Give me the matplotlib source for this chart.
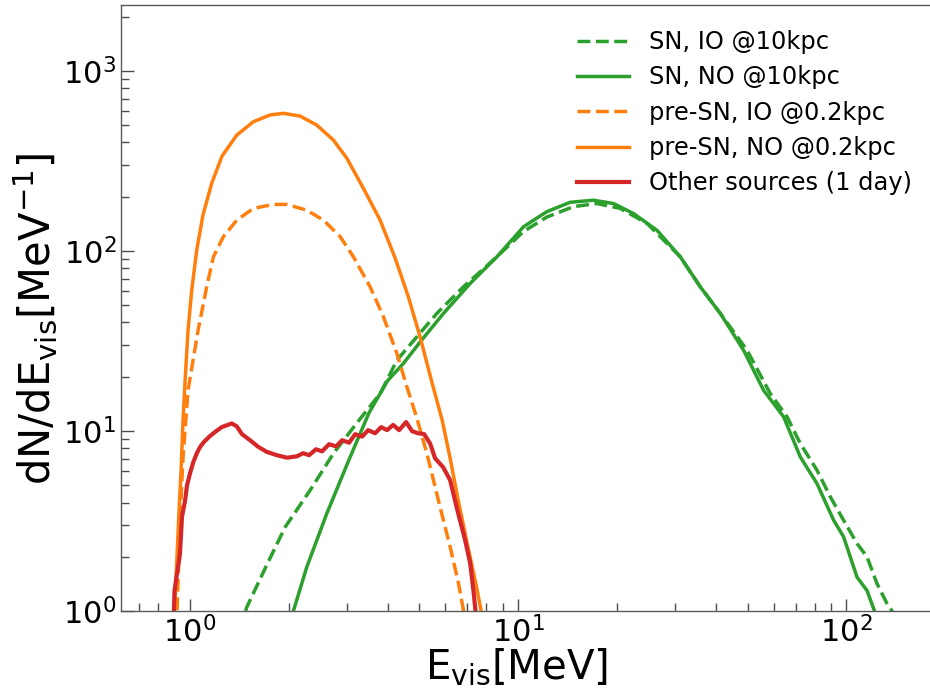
import numpy as np
import matplotlib
matplotlib.use("Agg")
import matplotlib.pyplot as plt

# pre-supernova, normal ordering (0.2 kpc)
presn_no_E = [0.885, 0.900, 0.913, 0.926, 0.939, 0.952, 0.966, 0.986, 1.012, 1.048, 1.095,
              1.165, 1.252, 1.388, 1.56, 1.753, 1.925, 2.165, 2.434, 2.734, 3.004, 3.376,
              3.796, 4.217, 4.62, 5.026, 5.468, 5.866, 6.204, 6.563, 6.99, 7.447, 7.713, 7.85]
presn_no_N = [0.6, 1.147, 2.04, 3.63, 6.05, 11.5, 19.1, 36.3, 60.5, 101, 158,
              238, 336, 439, 521, 568, 580, 560, 499, 412, 327, 222,
              148, 91.1, 56.0, 33.2, 18.4, 11.47, 7.05, 4.12, 2.38, 1.39, 1.0, 0.7]

# pre-supernova, inverted ordering (0.2 kpc)
presn_io_E = [0.900, 0.913, 0.932, 0.952, 0.986, 1.058, 1.124, 1.178, 1.264, 1.388, 1.56, 1.795,
              1.972, 2.269, 2.55, 2.866, 3.147, 3.538, 3.885, 4.27, 4.578, 4.91, 5.27,
              5.78, 6.204, 6.58, 6.81, 6.95]
presn_io_N = [0.5, 1.0, 3.19, 7.15, 16.8, 36.2, 63.1, 92.6, 120, 148, 172, 181,
              181, 168, 148, 120, 92.6, 63.1, 43, 26.9, 17.6, 11.8, 7.49,
              3.78, 2.27, 1.42, 1.01, 0.6]

# supernova, normal ordering (10 kpc)
sn_no_E = [1.95, 2.065, 2.269, 2.611, 3.047, 3.51, 4.00, 4.47, 5.026, 5.92, 7.14, 8.61,
           10.38, 12.23, 14.4, 16.97, 19.53, 22.47, 26.48, 31.19, 35.88, 41.3, 48.6,
           55.97, 64.4, 72.4, 81.4, 91.5, 98.1, 107.8, 115.6, 122.6, 130]
sn_no_N = [0.6, 1.0, 1.756, 3.48, 6.88, 12.6, 19.0, 23.7, 31.2, 44.9, 65.9, 92.6,
           136, 165, 186, 191, 183, 161, 130, 92.6, 63.1, 44.9, 28.1,
           16.8, 11.97, 7.17, 5.1, 3.19, 2.58, 1.54, 1.30, 0.97, 0.6]

# supernova, inverted ordering (10 kpc)
sn_io_E = [1.42, 1.489, 1.70, 1.95, 2.322, 2.734, 3.215, 3.796, 4.27, 4.91, 5.65, 6.81,
           8.61, 10.38, 12.23, 14.75, 17.38, 20.46, 24.69, 31.19, 35.88, 41.3, 49.8,
           58.66, 65.96, 72.4, 81.4, 89.4, 98.1, 107.8, 115.6, 124, 133, 139.4, 146]
sn_io_N = [0.8, 1.05, 1.75, 2.93, 4.68, 7.49, 11.0, 16.1, 24.7, 33.3, 44.9, 63.1,
           92.6, 128, 154, 176, 183, 172, 142, 92.6, 63.1, 44.9, 28.1,
           16.1, 11.97, 8.51, 6.05, 4.3, 3.19, 2.37, 2.0, 1.42, 1.1, 0.97, 0.7]

# backgrounds from other sources, integrated over one day
bkg_E = [0.891, 0.897, 0.932, 0.945, 0.966, 0.979, 1.0, 1.023, 1.048, 1.073, 1.103, 1.143,
         1.192, 1.249, 1.340, 1.388, 1.44, 1.523, 1.615, 1.713, 1.838, 1.975, 2.12,
         2.21, 2.306, 2.42, 2.526, 2.653, 2.787, 2.907, 3.053, 3.185, 3.345, 3.489,
         3.664, 3.822, 3.987, 4.158, 4.337, 4.554, 4.751, 4.956, 5.169, 5.392, 5.58,
         5.905, 6.204, 6.504, 6.893, 7.14, 7.305, 7.42, 7.5]
bkg_N = [0.9, 1.30, 2.09, 3.33, 4.12, 4.99, 5.82, 6.70, 7.49, 8.15, 8.69, 9.27,
         9.87, 10.5, 11.0, 10.6, 9.59, 8.88, 8.15, 7.65, 7.33, 7.10, 7.23,
         7.52, 7.33, 7.91, 7.7, 8.44, 8.2, 8.88, 8.6, 9.59, 9.3, 10.1,
         9.7, 10.5, 10.1, 10.8, 10.1, 11.2, 9.96, 9.7, 9.6, 8.5, 7.05,
         6.29, 5.32, 3.72, 2.47, 1.84, 1.30, 0.98, 0.7]

GREEN = "#2ca02c"
ORANGE = "#ff7f0e"
RED = "#d62728"

fig = plt.figure(figsize=(9.3, 6.9), dpi=100)
ax = fig.add_axes([121 / 930, 79 / 690, 813 / 930, 606 / 690])

lw = 2.5
ax.plot(sn_io_E, sn_io_N, color=GREEN, ls="--", lw=lw, label="SN, IO @10kpc")
ax.plot(sn_no_E, sn_no_N, color=GREEN, ls="-", lw=lw, label="SN, NO @10kpc")
ax.plot(presn_io_E, presn_io_N, color=ORANGE, ls="--", lw=lw, label="pre-SN, IO @0.2kpc")
ax.plot(presn_no_E, presn_no_N, color=ORANGE, ls="-", lw=lw, label="pre-SN, NO @0.2kpc")
ax.plot(bkg_E, bkg_N, color=RED, ls="-", lw=3, label="Other sources (1 day)")

ax.set_xscale("log")
ax.set_yscale("log")
ax.set_xlim(0.616, 185)
ax.set_ylim(1, 2317)

ax.tick_params(which="both", direction="in", top=False, right=False,
               colors="0.3", labelcolor="black", labelsize=22)
ax.tick_params(which="major", length=9, width=1)
ax.tick_params(which="minor", length=5.5, width=1)
for sp in ax.spines.values():
    sp.set_color("0.35")
    sp.set_linewidth(1)

ax.set_xlabel(r"E$_{\rm vis}$[MeV]", fontsize=29, labelpad=-1.0)
ax.set_ylabel(r"dN/dE$_{\rm vis}$[MeV$^{-1}$]", fontsize=30, labelpad=3)
ax.xaxis.label.set_x(0.486)
ax.yaxis.label.set_y(0.482)

ax.legend(loc="upper left", bbox_to_anchor=(567.6 / 930, 1 - 20.3 / 690),
          bbox_transform=fig.transFigure, frameon=False, fontsize=17.4,
          handlelength=2.15, handletextpad=0.8, labelspacing=0.47,
          borderaxespad=0)

fig.savefig("out.png", dpi=100)
